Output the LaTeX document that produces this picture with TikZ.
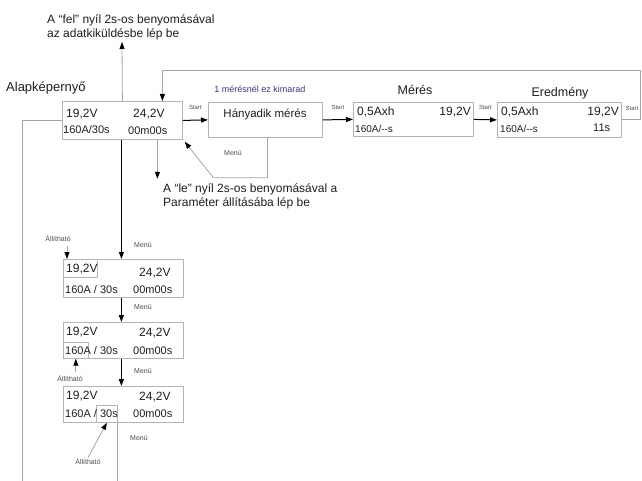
\documentclass[tikz,border=0pt]{standalone}
\usepackage{fontspec}
\setmainfont{Liberation Sans}
\usetikzlibrary{arrows.meta,positioning}
\definecolor{keret}{RGB}{180,180,180}
\definecolor{vonal}{RGB}{165,165,165}
\definecolor{kek}{RGB}{60,50,140}
\definecolor{iras}{RGB}{30,30,30}
\begin{document}
\begin{tikzpicture}[x=1pt,y=-1pt,line join=round,
  >={Triangle[length=7pt,width=5pt,color=black]},
  kijelzo/.style={draw=keret,line width=0.8pt,minimum width=120pt,minimum height=36pt,inner sep=0pt,anchor=north west},
  kiemel/.style={draw=keret,line width=0.7pt,inner sep=0pt,anchor=north west},
  felso/.style={font=\fontsize{12}{14}\selectfont,text=iras,inner sep=0pt,anchor=base west},
  also/.style={font=\fontsize{11}{14}\selectfont,text=iras,inner sep=0pt,anchor=base west},
  szoveg/.style={font=\fontsize{12}{14}\selectfont,text=iras,align=left,inner sep=0pt,anchor=base west},
  cimke/.style={font=\fontsize{7}{8}\selectfont,text=black!70,inner sep=0pt},
  startc/.style={font=\fontsize{6}{7}\selectfont,text=black!70,inner sep=0pt},
  szurke/.style={draw=vonal,line width=0.8pt},
  fekete/.style={draw=black,line width=1pt}]
\useasboundingbox (0,0) rectangle (642,481);

% kijelzok
\node[kijelzo,minimum height=38pt] (alap) at (62,101) {};
\node[kijelzo,minimum width=114pt,minimum height=35pt] (hany) at (208,102) {};
\node[kijelzo,minimum height=34pt] (meres) at (353,102) {};
\node[kijelzo,minimum width=124pt,minimum height=35pt] (ered) at (497,102) {};
\node[kijelzo,minimum height=38pt] (all1) at (63,259) {};
\node[kijelzo] (all2) at (63,322) {};
\node[kijelzo] (all3) at (63,386) {};

% kiemelt mezok
\node[kiemel,minimum width=34pt,minimum height=18pt] (k1) at (63,259) {};
\node[kiemel,minimum width=25pt,minimum height=16pt] (k2) at (63,342) {};
\node[kiemel,minimum width=21pt,minimum height=17pt] (k3) at (96,405) {};

% feliratok
\node[szoveg] (fel) at (47,38) {A “fel” nyíl 2s-os benyomásával\\az adatkiküldésbe lép be};
\node[szoveg] (le) at (163,207) {A “le” nyíl 2s-os benyomásával a\\Paraméter állításába lép be};
\node[font=\fontsize{13}{15}\selectfont,text=iras,inner sep=0pt,anchor=base west] (alapc) at (6,92) {Alapképernyő};
\node[font=\fontsize{9}{11}\selectfont,text=kek,inner sep=0pt,anchor=base] (kimarad) at (260,93) {1 mérésnél ez kimarad};
\node[font=\fontsize{12.5}{15}\selectfont,text=iras,inner sep=0pt,anchor=base] (meresc) at (415,95) {Mérés};
\node[font=\fontsize{12.5}{15}\selectfont,text=iras,inner sep=0pt,anchor=base] (eredc) at (560,97) {Eredmény};

% alapkepernyo
\node[felso] (a11) at (66,118) {19,2V};
\node[felso] (a12) at (133,118) {24,2V};
\node[also] (a21) at (63,134) {160A/30s};
\node[also] (a22) at (128,135) {00m00s};
\node[font=\fontsize{11.5}{14}\selectfont,text=iras,inner sep=0pt,anchor=base] (hanyt) at (265,118) {Hányadik mérés};

% meres, eredmeny
\node[felso] (m11) at (357,116) {0,5Axh};
\node[felso,anchor=base east] (m12) at (471,116) {19,2V};
\node[also,font=\fontsize{10}{12}\selectfont] (m21) at (355,133) {160A/{-}{-}s};
\node[felso] (e11) at (501,116) {0,5Axh};
\node[felso,anchor=base east] (e12) at (619,116) {19,2V};
\node[also,font=\fontsize{10}{12}\selectfont] (e21) at (500,133) {160A/{-}{-}s};
\node[also] (e22) at (593,132) {11s};

% parameter allitas
\node[felso] (b11) at (66,272) {19,2V};
\node[felso] (b12) at (139,276) {24,2V};
\node[also] (b21) at (65,293) {160A / 30s};
\node[also] (b22) at (133,293) {00m00s};
\node[felso] (c11) at (66,335) {19,2V};
\node[felso] (c12) at (139,336) {24,2V};
\node[also] (c21) at (65,354) {160A / 30s};
\node[also] (c22) at (133,354) {00m00s};
\node[felso] (d11) at (66,399) {19,2V};
\node[felso] (d12) at (139,400) {24,2V};
\node[also] (d21) at (65,417) {160A / 30s};
\node[also] (d22) at (133,417) {00m00s};

% start nyilak
\draw[fekete,->] (alap.east) -- (hany.west) node[startc,midway,above=10pt] (s1) {Start};
\draw[fekete,->] (hany.east) -- (meres.west) node[startc,midway,above=10pt] (s2) {Start};
\draw[fekete,->] (meres.east) -- (ered.west) node[startc,midway,above=10pt] (s3) {Start};
\node[startc] (s4) at (632,108) {Start};
\coordinate (vissza) at (640,70);
\draw[szurke,->] (ered.east) -| (vissza) -| ([xshift=40pt]alap.north);

% fel, le, menu
\coordinate (felcel) at (122,42);
\draw[szurke,->] (alap.north) -- (felcel);
\draw[szurke,->] ([xshift=35pt]alap.south) -- ++(0,39);
\draw[szurke,->] ([xshift=2pt]hany.south) -- ++(0,40) -- ++(-54,0) -- ([shift={(2,2)}]alap.south east);
\node[cimke] (m0) at (233,153) {Menü};
\draw[szurke] (alap.west) -- ++(-40,0) -- ++(0,365);

% menu lanc
\draw[fekete,line width=1.2pt,->] ([xshift=-1pt]alap.south) -- ([xshift=-2pt]all1.north);
\draw[fekete,line width=1.2pt,->] ([xshift=-2pt]all1.south) -- ([xshift=-2pt]all2.north);
\draw[fekete,line width=1.2pt,->] ([xshift=-2pt]all2.south) -- ([xshift=-2pt]all3.north);
\draw[szurke] (k3.south east) -- ++(0,62);
\node[cimke] (m1) at (143,245) {Menü};
\node[cimke] (m2) at (143,307) {Menü};
\node[cimke] (m3) at (143,371) {Menü};
\node[cimke] (m4) at (139,438) {Menü};

% allithato
\node[cimke] (al1) at (58,238) {Állítható};
\draw[szurke,<-] ([xshift=4pt]k1.north west) -- ++(0,-13);
\node[cimke] (al2) at (70,378) {Állítható};
\draw[szurke,<-] (k2.south) -- ++(0,13);
\node[cimke] (al3) at (88,461) {Állítható};
\draw[szurke,<-] (k3.south) -- (al3.north);
\end{tikzpicture}
\end{document}
